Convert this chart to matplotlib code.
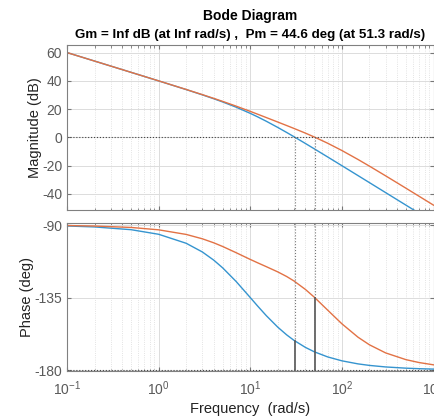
import numpy as np
import matplotlib
matplotlib.use('Agg')
import matplotlib.pyplot as plt
from matplotlib.ticker import LogLocator, NullFormatter

plt.rcParams['font.family'] = ['Liberation Sans', 'DejaVu Sans']
plt.rcParams['mathtext.default'] = 'regular'
plt.rcParams['axes.unicode_minus'] = False

# Частоты (rad/s)
freq = [0.1, 0.2, 0.5, 1, 2, 3, 4, 5, 7, 10, 12, 15, 20, 25, 30, 40, 50, 70, 100,
        150, 200, 300, 500, 700, 1000]

# Нескорректированная система (синяя)
mag_blue = [60.0, 53.98, 46.01, 39.96, 33.81, 30.08, 27.31, 25.05, 21.37, 16.99,
            14.54, 11.36, 6.99, 3.44, 0.46, -4.34, -8.13, -13.89, -20.04,
            -27.06, -32.05, -39.09, -47.96, -53.80, -60.0]
phase_blue = [-90.57, -91.15, -92.86, -95.71, -101.31, -106.70, -111.80, -116.57,
              -124.99, -135.0, -140.19, -146.31, -153.43, -158.20, -161.57,
              -165.96, -168.69, -171.87, -174.29, -176.19, -177.14, -178.09,
              -178.85, -179.18, -179.43]

# Скорректированная система (оранжевая)
mag_orange = [60.0, 53.98, 46.01, 39.98, 33.88, 30.23, 27.57, 25.45, 22.12, 18.39,
              16.42, 13.98, 10.82, 8.35, 6.31, 2.99, 0.26, -4.16, -9.31,
              -15.66, -20.38, -27.22, -35.98, -41.79, -47.97]
phase_orange = [-90.29, -90.60, -91.47, -92.94, -95.81, -98.52, -101.02, -103.30,
                -107.13, -111.33, -113.39, -115.85, -119.09, -121.96, -124.71,
                -129.97, -134.79, -142.83, -151.30, -159.63, -164.35, -169.37,
                -173.56, -175.39, -176.77]

# Частоты среза и фазы на них
wc = [30.8, 51.3]
phase_at_wc = [-162.0, -135.4]

blue = '#3594CF'
orange = '#E27245'
tick_color = '#5a5a5a'

fig = plt.figure(figsize=(4.34, 4.16), dpi=100)
ax1 = fig.add_axes([0.1544, 0.4952, 0.8445, 0.3978])
ax2 = fig.add_axes([0.1544, 0.1082, 0.8445, 0.3550])

mag_lim = (-51.4, 65.7)
ph_lim = (-180.6, -88.9)

ax1.semilogx(freq, mag_blue, color=blue, lw=1.0)
ax1.semilogx(freq, mag_orange, color=orange, lw=1.0)
ax1.axhline(0, color='#444444', lw=0.8, ls=':')
for w in wc:
    ax1.plot([w, w], [0, mag_lim[0]], color='#777777', lw=0.8, ls=':')

ax2.semilogx(freq, phase_blue, color=blue, lw=1.0)
ax2.semilogx(freq, phase_orange, color=orange, lw=1.0)
ax2.axhline(-180, color='#444444', lw=0.8, ls=':')
for w, p in zip(wc, phase_at_wc):
    ax2.plot([w, w], [ph_lim[1], p], color='#777777', lw=0.8, ls=':')
    ax2.plot([w, w], [-180, p], color='#555555', lw=1.2)

for ax in (ax1, ax2):
    ax.set_xlim(0.1, 1000)
    ax.xaxis.set_major_locator(LogLocator(base=10, numticks=10))
    ax.xaxis.set_minor_locator(LogLocator(base=10, subs=np.arange(2, 10), numticks=10))
    ax.xaxis.set_minor_formatter(NullFormatter())
    ax.grid(which='major', color='#dcdcdc', lw=0.7, ls='-')
    ax.grid(which='minor', axis='x', color='#dadada', lw=0.6, ls=':')
    ax.tick_params(which='both', direction='in', top=True, right=True,
                   colors='#777777', labelcolor=tick_color, labelsize=10)
    ax.tick_params(which='major', length=3)
    ax.tick_params(which='minor', length=1.8)
    for s in ax.spines.values():
        s.set_color('#808080')
        s.set_linewidth(0.8)
    ax.set_axisbelow(True)

ax1.set_ylim(*mag_lim)
ax1.set_yticks([-40, -20, 0, 20, 40, 60])
ax1.tick_params(axis='x', labelbottom=False)
ax1.set_ylabel('Magnitude (dB)', fontsize=10.5, color='#222222')
ax1.yaxis.set_label_coords(-0.068, 0.5)

ax2.set_ylim(*ph_lim)
ax2.set_yticks([-180, -135, -90])
ax2.set_ylabel('Phase (deg)', fontsize=10.5, color='#222222')
ax2.yaxis.set_label_coords(-0.09, 0.5)
ax2.set_xlabel('Frequency  (rad/s)', fontsize=10.5, color='#222222', labelpad=3)
ax2.tick_params(axis='x', pad=6)

fig.text(0.576, 0.962, 'Bode Diagram', ha='center', va='center',
         fontsize=10, fontweight='bold')
fig.text(0.576, 0.917, 'Gm = Inf dB (at Inf rad/s) ,  Pm = 44.6 deg (at 51.3 rad/s)',
         ha='center', va='center', fontsize=9.6, fontweight='bold')

plt.savefig('out.png', dpi=100)
plt.close()
